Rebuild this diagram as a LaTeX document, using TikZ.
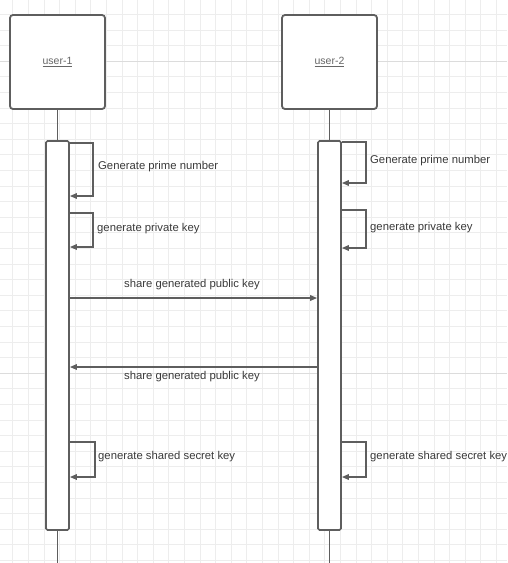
\documentclass[tikz,border=0pt]{standalone}
\usepackage{fontspec}
\setmainfont{Liberation Sans}
\usetikzlibrary{arrows.meta,calc}
\definecolor{ln}{HTML}{5E5E5E}
\definecolor{tx}{HTML}{3A3A3A}
\definecolor{gmin}{HTML}{EDEDED}
\definecolor{gmaj}{HTML}{DCDCDC}
\begin{document}
\begin{tikzpicture}[x=1pt,y=-1pt,
  actorbox/.style={draw=ln,line width=1.8pt,fill=white,rounded corners=3pt,minimum width=95pt,minimum height=94pt,inner sep=0pt,font=\fontsize{10.5}{12}\selectfont,text=gray!80!black},
  actbar/.style={draw=ln,line width=1.7pt,fill=white,rounded corners=1.5pt,minimum width=23pt,inner sep=0pt},
  life/.style={draw=ln,line width=1.5pt},
  msg/.style={draw=ln,line width=1.6pt,-{Triangle[length=7pt,width=5.5pt]}},
  lbl/.style={font=\fontsize{11.3}{13}\selectfont,text=tx,inner sep=0pt}]
\useasboundingbox (0,0) rectangle (507,563);
\fill[white] (0,0) rectangle (507,563);
% grid
\foreach \i in {0,...,32} {\draw[gmin,line width=0.6pt] ({-3+15.6*\i},0) -- ({-3+15.6*\i},563);}
\foreach \i in {-4,...,32} {\draw[gmin,line width=0.6pt] (0,{61+15.6*\i}) -- (507,{61+15.6*\i});}
\draw[gmaj,line width=0.8pt] (0,61) -- (507,61);
\draw[gmaj,line width=0.8pt] (0,373) -- (507,373);
% actors
\node[actorbox] (u1) at (57.5,62) {\underline{user-1}};
\node[actorbox] (u2) at (329.5,62) {\underline{user-2}};
% activations
\node[actbar,minimum height=389pt] (a1) at (57.5,335.5) {};
\node[actbar,minimum height=389pt] (a2) at (329.5,335.5) {};
\coordinate (e1) at (57.5,563);
\coordinate (e2) at (329.5,563);
\draw[life] (u1.south) -- (a1.north);
\draw[life] (u2.south) -- (a2.north);
\draw[life] (a1.south) -- (e1);
\draw[life] (a2.south) -- (e2);
% self messages user-1
\draw[msg] (a1.east |- 0,143) -- (93,143) -- (93,196) -- (a1.east |- 0,196);
\node[lbl,anchor=west] (t1) at (98,167) {Generate prime number};
\draw[msg] (a1.east |- 0,213) -- (93,213) -- (93,247) -- (a1.east |- 0,247);
\node[lbl,anchor=west] (t2) at (97,229) {generate private key};
% self messages user-2
\draw[msg] (a2.east |- 0,142) -- (366,142) -- (366,183) -- (a2.east |- 0,183);
\node[lbl,anchor=west] (t3) at (370,161) {Generate prime number};
\draw[msg] (a2.east |- 0,210) -- (366,210) -- (366,248) -- (a2.east |- 0,248);
\node[lbl,anchor=west] (t4) at (370,228) {generate private key};
% exchange
\draw[msg] (a1.east |- 0,298) -- (a2.west |- 0,298);
\node[lbl] (m1) at (192,285) {share generated public key};
\draw[msg] (a2.west |- 0,367) -- (a1.east |- 0,367);
\node[lbl] (m2) at (192,377) {share generated public key};
% shared secret
\draw[msg] (a1.east |- 0,442) -- (95,442) -- (95,477) -- (a1.east |- 0,477);
\node[lbl,anchor=west] (t5) at (98,457) {generate shared secret key};
\draw[msg] (a2.east |- 0,442) -- (366,442) -- (366,477) -- (a2.east |- 0,477);
\node[lbl,anchor=west] (t6) at (370,457) {generate shared secret key};
\end{tikzpicture}
\end{document}
